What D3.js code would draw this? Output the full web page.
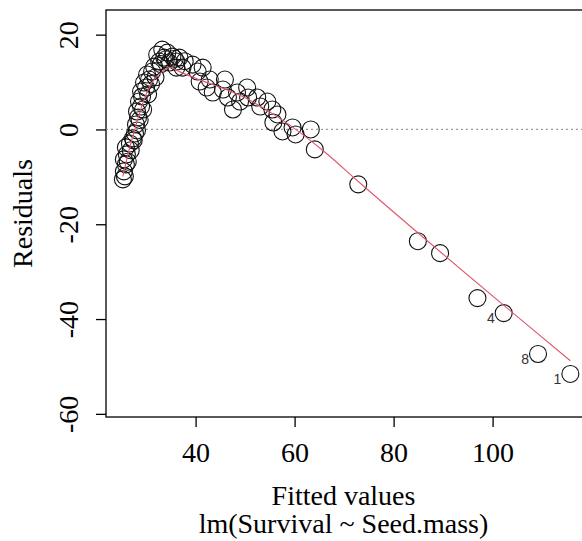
<!DOCTYPE html>
<html>
<head>
<meta charset="utf-8">
<script src="https://cdn.jsdelivr.net/npm/d3@7"></script>
<style>
  html, body { margin: 0; padding: 0; background: #fff; }
  svg { display: block; }
</style>
</head>
<body>
<svg id="chart" width="582" height="541"></svg>
<script>
// Residuals vs fitted values for lm(Survival ~ Seed.mass)
const fittedValues = [
  25.31, 25.71, 25.51, 25.92, 25.51, 26.12, 25.92, 26.73, 27.35, 27.76,
  28.16, 27.96, 28.37, 28.16, 28.98, 28.57, 29.18, 28.98, 30.00, 29.59,
  30.61, 30.20, 31.22, 31.63, 32.65, 32.24, 33.27, 34.29, 33.67, 35.31,
  34.69, 36.12, 36.73, 36.12, 37.35, 39.39, 40.41, 41.43, 40.82, 42.86,
  42.24, 43.47, 45.92, 45.51, 46.53, 47.55, 48.37, 48.98, 50.41, 50.61,
  52.45, 53.06, 54.49, 55.51, 56.53, 55.71, 57.55, 59.59, 60.20, 63.27,
  64.08, 72.86, 84.90, 89.39, 96.94, 102.24, 109.18, 115.71,
  26.30, 26.90, 27.50, 28.70, 29.40, 30.40, 31.00, 31.90, 33.00, 34.00,
  35.80, 37.80
];
const residualValues = [
  -10.53, -9.89, -8.84, -7.37, -6.32, -5.26, -3.79, -2.95, -1.89, -0.84,
  -0.21, 1.05, 2.53, 3.79, 4.84, 5.89, 6.95, 8.00, 8.84, 9.89,
  10.53, 11.58, 12.21, 13.26, 14.32, 15.79, 16.84, 16.21, 15.16, 15.37,
  14.11, 14.32, 15.16, 13.05, 13.05, 13.68, 12.21, 13.05, 10.11, 10.53,
  8.84, 7.79, 10.53, 8.42, 6.74, 4.21, 7.79, 5.89, 8.84, 6.74,
  6.74, 4.84, 5.89, 4.21, 3.16, 1.47, -0.42, 0.42, -1.05, 0.00,
  -4.21, -11.58, -23.58, -26.10, -35.58, -38.74, -47.37, -51.58,
  -6.80, -4.40, -2.30, 2.00, 4.20, 7.40, 9.60, 11.00, 13.80, 14.80,
  14.90, 14.40
];
// observation numbers of the three largest residuals
const labelIndex = [65, 66, 67];
const labelText = ["4", "8", "1"];

// lowess smoother through the residuals
const smoothFitted = [25.3, 26.5, 28.0, 29.6, 31.6, 33.3, 34.7, 36.7, 40.8, 49.6, 56.5, 65.9, 73.1, 102.7, 115.7];
const smoothResid  = [-9.9, -4.6, 1.05, 6.3, 10.5, 12.2, 13.1, 12.2, 10.5, 6.9, 2.7, -4.6, -11.2, -37.5, -48.8];

const xTicks = [40, 60, 80, 100];
const yTicks = [20, 0, -20, -40, -60];

const xTitle = "Fitted values";
const subTitle = "lm(Survival ~ Seed.mass)";
const yTitle = "Residuals";

const svg = d3.select("#chart");
const plotLeft = 106, plotRight = 584, plotTop = 10, plotBottom = 417;

const x = d3.scaleLinear().domain([21.9, 40 + (plotRight - 195.6) / 4.95]).range([plotLeft, plotRight]);
const y = d3.scaleLinear().domain([25.2, 25.2 - (plotBottom - plotTop) / 4.74]).range([plotTop, plotBottom]);

const serif = "'Liberation Serif', 'Times New Roman', serif";
const fontSize = 28;

// plot frame
svg.append("rect")
  .attr("x", plotLeft).attr("y", plotTop)
  .attr("width", plotRight - plotLeft).attr("height", plotBottom - plotTop)
  .attr("fill", "none").attr("stroke", "#000").attr("stroke-width", 1.3);

// zero reference line
svg.append("line")
  .attr("x1", plotLeft).attr("x2", plotRight)
  .attr("y1", y(0)).attr("y2", y(0))
  .attr("stroke", "#9a9a9a").attr("stroke-width", 1.2)
  .attr("stroke-dasharray", "2,3");

// x axis
const xAxis = svg.append("g")
  .attr("transform", `translate(0,${plotBottom})`)
  .call(d3.axisBottom(x).tickValues(xTicks).tickSize(10).tickPadding(8).tickFormat(d3.format("d")));
xAxis.select(".domain").remove();
xAxis.selectAll(".tick line").attr("stroke", "#000").attr("stroke-width", 1.3);
xAxis.selectAll(".tick text")
  .attr("font-family", serif).attr("font-size", fontSize).attr("fill", "#000")
  .attr("dy", null).attr("y", 45);

// y axis with labels rotated parallel to the axis
const yAxis = svg.append("g")
  .attr("transform", `translate(${plotLeft},0)`)
  .call(d3.axisLeft(y).tickValues(yTicks).tickSize(10).tickFormat(d => String(d)));
yAxis.select(".domain").remove();
yAxis.selectAll(".tick line").attr("stroke", "#000").attr("stroke-width", 1.3);
yAxis.selectAll(".tick text")
  .attr("font-family", serif).attr("font-size", fontSize).attr("fill", "#000")
  .attr("x", null).attr("dy", null)
  .attr("text-anchor", "middle")
  .attr("transform", "translate(-28,0) rotate(-90)");

// observation circles
const pts = fittedValues.map((f, i) => ({ f, r: residualValues[i] }));
svg.append("g").selectAll("circle")
  .data(pts).join("circle")
  .attr("cx", d => x(d.f)).attr("cy", d => y(d.r))
  .attr("r", 8.5)
  .attr("fill", "none").attr("stroke", "#111").attr("stroke-width", 1.1);

// smoother
const smooth = smoothFitted.map((f, i) => [f, smoothResid[i]]);
svg.append("path")
  .datum(smooth)
  .attr("d", d3.line().x(d => x(d[0])).y(d => y(d[1])).curve(d3.curveMonotoneX))
  .attr("fill", "none").attr("stroke", "#e0566b").attr("stroke-width", 1.1);

// point labels for the largest residuals
svg.append("g").selectAll("text")
  .data(labelIndex).join("text")
  .attr("x", d => x(fittedValues[d]) - 9)
  .attr("y", d => y(residualValues[d]) + 10)
  .attr("text-anchor", "end")
  .attr("font-family", "'Liberation Sans', Arial, sans-serif")
  .attr("font-size", 14)
  .attr("fill", "#333")
  .text((d, i) => labelText[i]);

// titles
const midX = (plotLeft + 581) / 2;
svg.append("text")
  .attr("x", midX).attr("y", 505)
  .attr("text-anchor", "middle")
  .attr("font-family", serif).attr("font-size", fontSize)
  .text(xTitle);
svg.append("text")
  .attr("x", midX).attr("y", 533)
  .attr("text-anchor", "middle")
  .attr("font-family", serif).attr("font-size", fontSize)
  .text(subTitle);
svg.append("text")
  .attr("transform", `translate(32,${(plotTop + plotBottom) / 2}) rotate(-90)`)
  .attr("text-anchor", "middle")
  .attr("font-family", serif).attr("font-size", fontSize)
  .text(yTitle);
</script>
</body>
</html>
